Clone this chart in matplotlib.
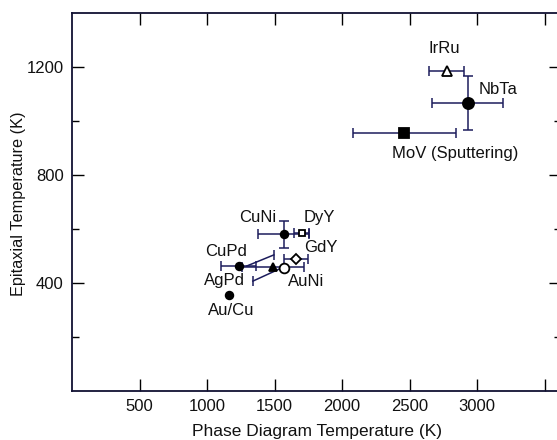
import matplotlib
matplotlib.use("Agg")
import matplotlib.pyplot as plt
from matplotlib.ticker import FixedLocator, NullFormatter

plt.rcParams['font.family'] = ['Liberation Sans', 'DejaVu Sans']

# ---- data ----
names = ["Au/Cu", "CuPd", "AgPd", "CuNi", "AuNi", "GdY", "DyY", "MoV (Sputtering)", "NbTa", "IrRu"]
phase_T = [1160, 1235, 1490, 1568, 1568, 1657, 1700, 2460, 2930, 2775]
epi_T = [356, 463, 460, 580, 456, 489, 585, 955, 1067, 1185]
x_err = [0, 130, 230, 190, 0, 90, 55, 380, 263, 130]
y_err = [0, 0, 0, 50, 0, 0, 0, 0, 100, 0]
markers = ["o", "o", "^", "o", "o", "D", "s", "s", "o", "^"]
filled = [True, True, True, True, False, False, False, True, True, False]
msizes = [5.5, 5.5, 5.5, 5.5, 7, 5, 5, 6.5, 8, 7]

# label centre positions (data units)
label_x = [1176, 1139, 1132, 1376, 1731, 1840, 1830, 2833, 3151, 2759]
label_y = [300, 515, 411, 641, 405, 533, 641, 881, 1118, 1270]

# leader lines (start, end) and which end carries a cap
leaders = [((1294, 463), (1494, 504)), ((1339, 407), (1553, 456))]
leader_cap_end = [1, 0]

x_ticks = [500, 1000, 1500, 2000, 2500, 3000, 3500]
x_ticklabels = ["500", "1000", "1500", "2000", "2500", "3000", ""]
y_major = [400, 800, 1200]
y_minor = [200, 600, 1000]

line_col = "#1c1c5c"
fs = 12

fig = plt.figure(figsize=(5.57, 4.40), dpi=100)
ax = fig.add_axes([72 / 557, 49 / 440, (561 - 72) / 557, 378 / 440])
ax.set_xlim(0, 3620)
ax.set_ylim(0, 1400)

for i in range(len(names)):
    xe = x_err[i] if x_err[i] else None
    ye = y_err[i] if y_err[i] else None
    if xe or ye:
        ax.errorbar(phase_T[i], epi_T[i], xerr=xe, yerr=ye, fmt="none",
                    ecolor=line_col, elinewidth=1.1, capsize=3.5, capthick=1.1, zorder=2)
    ax.plot(phase_T[i], epi_T[i], marker=markers[i], ms=msizes[i],
            mfc="black" if filled[i] else "white", mec="black", mew=1.3,
            linestyle="none", zorder=3)

for k, ((x0, y0), (x1, y1)) in enumerate(leaders):
    ax.plot([x0, x1], [y0, y1], color=line_col, lw=1.1, zorder=2)
    cx, cy = (x1, y1) if leader_cap_end[k] else (x0, y0)
    ax.plot(cx, cy, marker="|", ms=7, mew=1.1, color=line_col, zorder=2)

for i, name in enumerate(names):
    ax.text(label_x[i], label_y[i], name, ha="center", va="center",
            fontsize=fs, color="#111111")

ax.xaxis.set_major_locator(FixedLocator(x_ticks))
ax.set_xticklabels(x_ticklabels)
ax.yaxis.set_major_locator(FixedLocator(y_major))
ax.yaxis.set_minor_locator(FixedLocator(y_minor))
ax.yaxis.set_minor_formatter(NullFormatter())
ax.tick_params(axis="both", which="major", direction="in", length=8.5, width=1.0,
               top=True, right=True, labelsize=fs, pad=6, labelcolor="#111111")
ax.tick_params(axis="y", which="minor", direction="in", length=5, width=1.0, right=True)
for s in ax.spines.values():
    s.set_linewidth(1.3)
    s.set_color("#111133")

ax.set_xlabel("Phase Diagram Temperature (K)", fontsize=12.5, labelpad=7, color="#111111")
fig.text(19 / 557, 1 - 204 / 440, "Epitaxial Temperature (K)", rotation=90,
         ha="center", va="center", fontsize=11.7, color="#111111")

fig.savefig("out.png", dpi=100)
